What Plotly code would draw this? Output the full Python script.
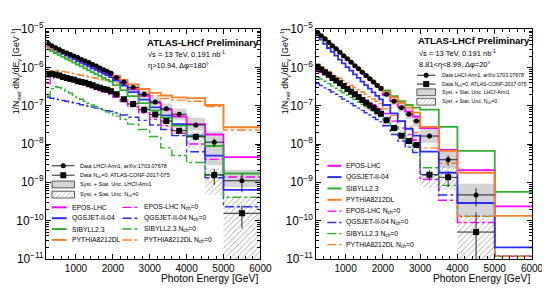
import plotly.graph_objects as go

FONT = "Liberation Sans, Arial, Helvetica, sans-serif"

# ---------------- binning (GeV) ----------------
edges_a = [200, 300, 400, 500, 600, 700, 800, 900, 1000, 1100, 1200, 1300, 1400,
           1500, 1600, 1700, 1800, 1900, 2000, 2200, 2400, 2700, 3000, 3300, 3600,
           4000, 4500, 5000, 6000]
edges_b = [200, 300, 400, 500, 600, 700, 800, 900, 1000, 1100, 1200, 1300, 1400,
           1500, 1600, 1700, 1800, 1900, 2000, 2200, 2400, 2600, 2800, 3000, 3500,
           4000, 5000, 6000]

# ---------------- left panel: eta > 10.94 ----------------
lhcf_a = [4.27e-6, 3.72e-6, 3.31e-6, 2.95e-6, 2.63e-6, 2.40e-6, 2.19e-6, 2.00e-6, 1.82e-6, 1.62e-6,
          1.48e-6, 1.35e-6, 1.20e-6, 1.10e-6, 9.77e-7, 8.71e-7, 7.94e-7, 7.08e-7,
          5.50e-7, 4.17e-7, 3.02e-7, 2.00e-7, 1.26e-7, 8.32e-8, 6.03e-8, 3.16e-8, 1.12e-8, 1.10e-9]
nch0_a = [6.61e-7, 6.76e-7, 6.61e-7, 6.17e-7, 5.62e-7, 5.37e-7, 5.01e-7, 4.79e-7, 4.37e-7, 4.17e-7,
          3.98e-7, 3.72e-7, 3.47e-7, 3.16e-7, 2.95e-7, 2.75e-7, 2.63e-7, 2.40e-7,
          2.00e-7, 1.48e-7, 1.12e-7, 7.94e-8, 5.89e-8, 3.98e-8, 2.24e-8, 1.55e-8, 1.55e-9, 1.55e-10]
stat_lhcf_a = [0.02, 0.02, 0.02, 0.02, 0.02, 0.02, 0.02, 0.02, 0.02, 0.02, 0.02, 0.02, 0.02, 0.02,
               0.02, 0.02, 0.02, 0.02, 0.03, 0.03, 0.04, 0.05, 0.06, 0.08, 0.10, 0.15, 0.25, 0.50]
stat_nch_a = [0.03, 0.03, 0.03, 0.03, 0.03, 0.03, 0.03, 0.03, 0.03, 0.03, 0.03, 0.03, 0.03, 0.03,
              0.03, 0.03, 0.03, 0.03, 0.05, 0.05, 0.06, 0.07, 0.09, 0.11, 0.14, 0.20, 0.45, 0.60]
sys_lhcf_up_a = [1.10, 1.10, 1.10, 1.10, 1.10, 1.11, 1.11, 1.12, 1.12, 1.13, 1.13, 1.14, 1.15, 1.15,
                 1.16, 1.17, 1.18, 1.19, 1.20, 1.22, 1.25, 1.28, 1.32, 1.36, 1.40, 1.55, 1.90, 1.95]
sys_lhcf_dn_a = [1.10, 1.10, 1.10, 1.10, 1.10, 1.11, 1.11, 1.12, 1.12, 1.13, 1.13, 1.14, 1.15, 1.15,
                 1.16, 1.17, 1.18, 1.19, 1.20, 1.22, 1.25, 1.28, 1.32, 1.36, 1.40, 1.40, 4.00, 1.45]
sys_nch_up_a = [1.12, 1.12, 1.12, 1.12, 1.12, 1.12, 1.13, 1.13, 1.14, 1.14, 1.15, 1.15, 1.16, 1.17,
                1.18, 1.19, 1.20, 1.21, 1.23, 1.25, 1.28, 1.32, 1.36, 1.40, 1.45, 1.35, 1.50, 2.70]
sys_nch_dn_a = [1.12, 1.12, 1.12, 1.12, 1.12, 1.12, 1.13, 1.13, 1.14, 1.14, 1.15, 1.15, 1.16, 1.17,
                1.18, 1.19, 1.20, 1.21, 1.23, 1.25, 1.28, 1.32, 1.36, 1.40, 1.45, 2.00, 3.30, 1000.0]

epos_a = [3.63e-6, 3.24e-6, 2.95e-6, 2.63e-6, 2.40e-6, 2.14e-6, 1.95e-6, 1.74e-6, 1.58e-6, 1.41e-6,
          1.29e-6, 1.15e-6, 1.05e-6, 9.33e-7, 8.51e-7, 7.59e-7, 6.92e-7, 6.17e-7,
          5.01e-7, 3.80e-7, 2.69e-7, 1.82e-7, 1.20e-7, 7.94e-8, 5.25e-8, 3.31e-8, 1.78e-8, 4.57e-9]
qgs_a = [3.47e-6, 3.09e-6, 2.82e-6, 2.51e-6, 2.29e-6, 2.04e-6, 1.82e-6, 1.66e-6, 1.48e-6, 1.32e-6,
         1.20e-6, 1.07e-6, 9.55e-7, 8.71e-7, 7.76e-7, 6.92e-7, 6.31e-7, 5.62e-7,
         4.57e-7, 3.39e-7, 2.29e-7, 1.45e-7, 9.12e-8, 5.62e-8, 3.31e-8, 1.66e-8, 5.01e-9, 6.31e-10]
sib_a = [3.02e-6, 2.69e-6, 2.40e-6, 2.14e-6, 1.91e-6, 1.70e-6, 1.51e-6, 1.35e-6, 1.20e-6, 1.07e-6,
         9.55e-7, 8.51e-7, 7.59e-7, 6.76e-7, 6.03e-7, 5.37e-7, 4.79e-7, 4.27e-7,
         3.47e-7, 2.57e-7, 1.78e-7, 1.17e-7, 7.59e-8, 4.90e-8, 3.02e-8, 1.58e-8, 8.91e-9, 1.70e-9]
pyt_a = [3.55e-6, 3.24e-6, 2.95e-6, 2.69e-6, 2.45e-6, 2.24e-6, 2.04e-6, 1.86e-6, 1.70e-6, 1.55e-6,
         1.41e-6, 1.29e-6, 1.17e-6, 1.07e-6, 9.77e-7, 8.91e-7, 8.13e-7, 7.41e-7,
         6.03e-7, 4.79e-7, 3.63e-7, 2.75e-7, 2.19e-7, 1.86e-7, 1.66e-7, 1.58e-7, 1.05e-7, 2.75e-8]
epos0_a = [3.80e-7, 5.01e-7, 5.62e-7, 5.62e-7, 5.37e-7, 5.01e-7, 4.68e-7, 4.37e-7, 3.98e-7, 3.72e-7,
           3.47e-7, 3.16e-7, 2.95e-7, 2.69e-7, 2.51e-7, 2.29e-7, 2.14e-7, 1.95e-7,
           1.66e-7, 1.32e-7, 9.55e-8, 6.61e-8, 4.47e-8, 3.02e-8, 1.91e-8, 1.00e-8, 3.98e-9, 1.38e-9]
qgs0_a = [1.66e-7, 1.58e-7, 1.51e-7, 1.45e-7, 1.38e-7, 1.32e-7, 1.26e-7, 1.20e-7, 1.15e-7, 1.07e-7,
          1.02e-7, 9.77e-8, 9.33e-8, 8.71e-8, 8.32e-8, 7.94e-8, 7.41e-8, 7.08e-8,
          6.46e-8, 5.75e-8, 5.01e-8, 4.17e-8, 3.16e-8, 2.40e-8, 1.66e-8, 6.31e-9, 1.32e-9, 2.29e-10]
sib0_a = [1.78e-7, 2.82e-7, 3.16e-7, 3.02e-7, 2.75e-7, 2.40e-7, 2.14e-7, 1.91e-7, 1.66e-7, 1.48e-7,
          1.32e-7, 1.17e-7, 1.05e-7, 9.55e-8, 8.51e-8, 7.59e-8, 6.92e-8, 6.31e-8,
          5.37e-8, 4.37e-8, 3.31e-8, 2.40e-8, 1.58e-8, 7.94e-9, 5.01e-9, 3.31e-9, 1.58e-9, 4.07e-10]
pyt0_a = [7.59e-7, 8.32e-7, 8.51e-7, 8.32e-7, 7.94e-7, 7.59e-7, 7.24e-7, 6.92e-7, 6.61e-7, 6.31e-7,
          6.03e-7, 5.75e-7, 5.50e-7, 5.25e-7, 5.01e-7, 4.79e-7, 4.57e-7, 4.37e-7,
          3.98e-7, 3.47e-7, 2.88e-7, 2.29e-7, 1.82e-7, 1.55e-7, 1.41e-7, 1.32e-7, 9.55e-8, 2.34e-8]

# ---------------- right panel: 8.81 < eta < 8.99 ----------------
lhcf_b = [8.32e-6, 6.76e-6, 5.62e-6, 4.57e-6, 3.72e-6, 3.09e-6, 2.51e-6, 2.04e-6, 1.70e-6, 1.38e-6,
          1.12e-6, 9.33e-7, 7.59e-7, 6.17e-7, 5.13e-7, 4.17e-7, 3.39e-7, 2.82e-7,
          2.00e-7, 1.32e-7, 8.91e-8, 6.03e-8, 3.98e-8, 1.62e-8, 3.89e-9, 4.68e-10, None]
nch0_b = [1.05e-6, 8.91e-7, 7.59e-7, 6.46e-7, 5.37e-7, 4.57e-7, 3.89e-7, 3.31e-7, 2.75e-7, 2.34e-7,
          2.00e-7, 1.70e-7, 1.41e-7, 1.20e-7, 1.02e-7, 8.71e-8, 7.24e-8, 6.17e-8,
          4.17e-8, 2.63e-8, 1.66e-8, 1.20e-8, 9.50e-9, 1.58e-9, 1.35e-9, 5.01e-11, None]
stat_lhcf_b = [0.02, 0.02, 0.02, 0.02, 0.02, 0.02, 0.02, 0.02, 0.02, 0.02, 0.02, 0.02, 0.02, 0.02,
               0.02, 0.02, 0.02, 0.02, 0.04, 0.05, 0.06, 0.08, 0.10, 0.12, 0.30, 0.50, None]
stat_nch_b = [0.03, 0.03, 0.03, 0.03, 0.03, 0.03, 0.03, 0.03, 0.03, 0.03, 0.03, 0.03, 0.03, 0.03,
              0.03, 0.03, 0.03, 0.03, 0.06, 0.08, 0.10, 0.14, 0.16, 0.30, 0.45, 2.30, None]
sys_lhcf_up_b = [1.08, 1.08, 1.08, 1.08, 1.08, 1.08, 1.09, 1.09, 1.10, 1.10, 1.11, 1.12, 1.13, 1.14,
                 1.15, 1.16, 1.18, 1.20, 1.22, 1.25, 1.28, 1.32, 1.38, 1.85, 1.90, 1.95, None]
sys_lhcf_dn_b = [1.08, 1.08, 1.08, 1.08, 1.08, 1.08, 1.09, 1.09, 1.10, 1.10, 1.11, 1.12, 1.13, 1.14,
                 1.15, 1.16, 1.18, 1.20, 1.22, 1.25, 1.28, 1.32, 1.38, 1.50, 1.65, 3.80, None]
sys_nch_up_b = [1.12, 1.12, 1.12, 1.12, 1.12, 1.13, 1.13, 1.14, 1.15, 1.16, 1.17, 1.18, 1.20, 1.22,
                1.24, 1.26, 1.28, 1.30, 1.35, 1.40, 1.45, 1.50, 1.55, 1.20, 2.00, 2.50, None]
sys_nch_dn_b = [1.12, 1.12, 1.12, 1.12, 1.12, 1.13, 1.13, 1.14, 1.15, 1.16, 1.17, 1.18, 1.20, 1.22,
                1.24, 1.26, 1.28, 1.30, 1.35, 1.40, 1.45, 1.50, 1.55, 2.20, 2.10, 1000.0, None]

epos_b = [7.94e-6, 6.46e-6, 5.25e-6, 4.27e-6, 3.47e-6, 2.88e-6, 2.34e-6, 1.95e-6, 1.58e-6, 1.32e-6,
          1.07e-6, 8.71e-7, 7.24e-7, 5.89e-7, 4.90e-7, 3.98e-7, 3.24e-7, 2.63e-7,
          1.91e-7, 1.32e-7, 9.55e-8, 7.08e-8, 5.25e-8, 2.63e-8, 7.08e-9, 2.09e-9, 2.34e-10]
qgs_b = [6.92e-6, 5.37e-6, 4.17e-6, 3.24e-6, 2.57e-6, 2.04e-6, 1.62e-6, 1.29e-6, 1.02e-6, 8.32e-7,
         6.61e-7, 5.37e-7, 4.27e-7, 3.47e-7, 2.82e-7, 2.24e-7, 1.82e-7, 1.48e-7,
         1.05e-7, 6.31e-8, 3.98e-8, 2.51e-8, 1.66e-8, 6.31e-9, 1.78e-9, 2.88e-10, 2.00e-11]
sib_b = [7.41e-6, 6.17e-6, 5.01e-6, 4.17e-6, 3.39e-6, 2.82e-6, 2.34e-6, 1.91e-6, 1.58e-6, 1.32e-6,
         1.10e-6, 9.12e-7, 7.59e-7, 6.31e-7, 5.25e-7, 4.37e-7, 3.63e-7, 3.02e-7,
         2.51e-7, 1.78e-7, 1.32e-7, 1.05e-7, 8.91e-8, 7.94e-8, 2.82e-8, 6.61e-9, 5.62e-10]
pyt_b = [7.94e-6, 6.61e-6, 5.37e-6, 4.47e-6, 3.63e-6, 3.02e-6, 2.45e-6, 2.04e-6, 1.66e-6, 1.38e-6,
         1.15e-6, 9.33e-7, 7.76e-7, 6.46e-7, 5.37e-7, 4.37e-7, 3.63e-7, 3.02e-7,
         2.29e-7, 1.66e-7, 1.20e-7, 8.91e-8, 6.61e-8, 2.82e-8, 6.61e-9, 1.78e-9, 1.32e-10]
epos0_b = [8.32e-7, 7.41e-7, 6.46e-7, 5.62e-7, 4.90e-7, 4.27e-7, 3.72e-7, 3.24e-7, 2.82e-7, 2.45e-7,
           2.14e-7, 1.86e-7, 1.62e-7, 1.41e-7, 1.23e-7, 1.07e-7, 9.33e-8, 8.13e-8,
           6.31e-8, 3.98e-8, 2.63e-8, 1.78e-8, 1.26e-8, 1.20e-9, 3.39e-10, 8.91e-11, 1.17e-11]
qgs0_b = [3.80e-7, 3.39e-7, 2.95e-7, 2.63e-7, 2.29e-7, 2.00e-7, 1.74e-7, 1.51e-7, 1.32e-7, 1.15e-7,
          1.00e-7, 8.71e-8, 7.59e-8, 6.61e-8, 5.75e-8, 5.01e-8, 4.37e-8, 3.80e-8,
          3.02e-8, 1.78e-8, 1.20e-8, 8.32e-9, 6.03e-9, 1.58e-9, 4.68e-10, 1.29e-10, 1.17e-11]
sib0_b = [5.62e-7, 5.01e-7, 4.37e-7, 3.80e-7, 3.31e-7, 2.88e-7, 2.51e-7, 2.19e-7, 1.91e-7, 1.66e-7,
          1.45e-7, 1.26e-7, 1.10e-7, 9.55e-8, 8.32e-8, 7.24e-8, 6.31e-8, 5.50e-8,
          4.37e-8, 2.82e-8, 1.91e-8, 1.26e-8, 8.91e-9, 2.40e-9, 8.32e-10, 1.29e-10, 1.17e-11]
pyt0_b = [1.20e-6, 1.05e-6, 9.12e-7, 7.94e-7, 6.92e-7, 6.03e-7, 5.25e-7, 4.57e-7, 3.98e-7, 3.47e-7,
          3.02e-7, 2.63e-7, 2.29e-7, 2.00e-7, 1.74e-7, 1.51e-7, 1.32e-7, 1.15e-7,
          8.32e-8, 5.62e-8, 3.98e-8, 2.82e-8, 2.00e-8, 7.94e-9, 3.16e-9, 1.29e-10, 1.17e-11]

model_names = ["EPOS-LHC", "QGSJET-II-04", "SIBYLL2.3", "PYTHIA8212DL"]
model_colors = ["#ff00ff", "#2b2bff", "#2fae2f", "#ff7f27"]

GREY = "#d4d4d4"
HATCH = "#9a9a9a"

fig = go.Figure()


def draw_panel(xa, ya, edges, lhcf, nch0, st_l, st_n, sl_up, sl_dn, sn_up, sn_dn, models, models0):
    cen = [(a + b) / 2 for a, b in zip(edges[:-1], edges[1:])]
    wid = [b - a for a, b in zip(edges[:-1], edges[1:])]

    # systematic bands
    bands = [(lhcf, sl_up, sl_dn, dict(color=GREY, line=dict(width=0))),
             (nch0, sn_up, sn_dn, dict(color="rgba(0,0,0,0)", line=dict(width=0),
                                       pattern=dict(shape="/", fgcolor=HATCH, bgcolor="rgba(0,0,0,0)",
                                                    fillmode="replace", size=4, solidity=0.2)))]
    for vals, up, dn, mk in bands:
        idx = [i for i, v in enumerate(vals) if v is not None]
        lo = [vals[i] / dn[i] for i in idx]
        hi = [vals[i] * up[i] for i in idx]
        fig.add_trace(go.Bar(x=[cen[i] for i in idx], y=[h - l for h, l in zip(hi, lo)], base=lo,
                             width=[wid[i] for i in idx], marker=mk, xaxis=xa, yaxis=ya,
                             showlegend=False, hoverinfo="skip"))

    # model histograms
    for vals, col in zip(models0, model_colors):
        fig.add_trace(go.Scatter(x=edges, y=vals + [vals[-1]], mode="lines",
                                 line=dict(color=col, width=1.4, dash="dashdot", shape="hv"),
                                 xaxis=xa, yaxis=ya, showlegend=False))
    for vals, col in zip(models, model_colors):
        fig.add_trace(go.Scatter(x=edges, y=vals + [vals[-1]], mode="lines",
                                 line=dict(color=col, width=1.8, shape="hv"),
                                 xaxis=xa, yaxis=ya, showlegend=False))

    # data points
    for vals, st, sym, sz in ((nch0, st_n, "square", 6), (lhcf, st_l, "circle", 5)):
        idx = [i for i, v in enumerate(vals) if v is not None]
        fig.add_trace(go.Scatter(
            x=[cen[i] for i in idx], y=[vals[i] for i in idx], mode="markers",
            marker=dict(symbol=sym, size=sz, color="black"),
            error_x=dict(type="data", array=[wid[i] / 2 for i in idx], thickness=1, width=0, color="#222"),
            error_y=dict(type="data", array=[vals[i] * st[i] for i in idx], thickness=1, width=0, color="#222"),
            xaxis=xa, yaxis=ya, showlegend=False))


draw_panel("x", "y", edges_a, lhcf_a, nch0_a, stat_lhcf_a, stat_nch_a,
           sys_lhcf_up_a, sys_lhcf_dn_a, sys_nch_up_a, sys_nch_dn_a,
           [epos_a, qgs_a, sib_a, pyt_a], [epos0_a, qgs0_a, sib0_a, pyt0_a])
draw_panel("x2", "y2", edges_b, lhcf_b, nch0_b, stat_lhcf_b, stat_nch_b,
           sys_lhcf_up_b, sys_lhcf_dn_b, sys_nch_up_b, sys_nch_dn_b,
           [epos_b, qgs_b, sib_b, pyt_b], [epos0_b, qgs0_b, sib0_b, pyt0_b])

# ---------------- legends / labels, drawn on a pixel overlay axis ----------------
shapes = []
annos = []


def text(x, y, s, size, anchor="left", **kw):
    annos.append(dict(x=x, y=y, xref="x3", yref="y3", text=s, showarrow=False, xanchor=anchor,
                      yanchor=kw.pop("yanchor", "middle"), font=dict(family=FONT, size=size, color="black"), **kw))


def data_legend(x0, x1, tx, ys, size):
    xm = (x0 + x1) / 2
    for y, sym, sz in ((ys[0], "circle", 5), (ys[1], "square", 6)):
        shapes.append(dict(type="line", xref="x3", yref="y3", x0=x0, x1=x1, y0=y, y1=y,
                           line=dict(color="#222", width=1)))
        fig.add_trace(go.Scatter(x=[xm], y=[y], mode="markers", marker=dict(symbol=sym, size=sz, color="black"),
                                 xaxis="x3", yaxis="y3", showlegend=False, hoverinfo="skip"))
    for y, mk in ((ys[2], dict(color=GREY, line=dict(color="#333", width=0.8))),
                  (ys[3], dict(color="white", line=dict(color="#333", width=0.8),
                               pattern=dict(shape="/", fgcolor=HATCH, bgcolor="white",
                                            fillmode="replace", size=3, solidity=0.2)))):
        fig.add_trace(go.Bar(x=[xm], y=[7.2], base=[y - 3.6], width=[x1 - x0], marker=mk,
                             xaxis="x3", yaxis="y3", showlegend=False, hoverinfo="skip"))
    labels = ["Data LHCf-Arm1, arXiv:1703.07678", "Data N<sub>ch</sub>=0, ATLAS-CONF-2017-075",
              "Syst. + Stat. Unc. LHCf-Arm1", "Syst. + Stat. Unc. N<sub>ch</sub>=0"]
    for y, s in zip(ys, labels):
        text(tx, y, s, size)


def model_entry(x0, x1, tx, y, col, dashed, label):
    shapes.append(dict(type="line", xref="x3", yref="y3", x0=x0, x1=x1, y0=y, y1=y,
                       line=dict(color=col, width=1.4 if dashed else 2, dash="dashdot" if dashed else "solid")))
    text(tx, y, label, 6.8)


# left panel
data_legend(45, 68, 72, [157.5, 167.5, 177.3, 188.0], 5.5)
for i, y in enumerate([201.5, 213.0, 224.5, 236.0]):
    model_entry(45, 60, 63, y, model_colors[i], False, model_names[i])
    model_entry(117, 133, 137, y, model_colors[i], True, model_names[i] + " N<sub>ch</sub>=0")
text(140, 26.7, "<b>ATLAS-LHCf Preliminary</b>", 9.5)
text(141.5, 39.5, "√s = 13 TeV, 0.191 nb<sup>-1</sup>", 7.5)
text(141.5, 51.0, "η>10.94, Δφ=180°", 7.5)

# right panel
data_legend(418, 437, 441.7, [61.7, 71.0, 79.7, 89.7], 5.2)
rows_b = [157.5, 169.5, 181.5, 193.5, 205.5, 217.5, 229.3, 241.0]
for i in range(4):
    model_entry(326.5, 341, 344, rows_b[i], model_colors[i], False, model_names[i])
    model_entry(326.5, 341, 344, rows_b[i + 4], model_colors[i], True, model_names[i] + " N<sub>ch</sub>=0")
text(416.7, 25.0, "<b>ATLAS-LHCf Preliminary</b>", 9.5)
text(417.7, 37.7, "√s = 13 TeV, 0.191 nb<sup>-1</sup>", 7.5)
text(417.7, 50.7, "8.81&lt;η&lt;8.99, Δφ=20°", 7.5)

# axis titles
ytitle = "1/N<sub>inel</sub> dN<sub>γ</sub>/dE<sub>γ</sub> [GeV<sup>-1</sup>]"
for xt in (8.0, 283.0):
    text(xt, 10, ytitle, 8.7, anchor="center", yanchor="top", textangle=-90)
for xt in (258, 535.7):
    text(xt, 277, "Photon Energy [GeV]", 10.3, anchor="right")

axis_base = dict(showline=True, linecolor="black", linewidth=1, mirror="allticks", ticks="inside",
                 ticklen=5, tickwidth=1, tickcolor="black", showgrid=False, zeroline=False,
                 tickfont=dict(family=FONT, size=10, color="black"))
xbase = dict(axis_base, range=[200, 6000], tick0=0, dtick=1000,
             minor=dict(ticks="inside", ticklen=3, dtick=200, tickcolor="black", showgrid=False))
ybase = dict(axis_base, type="log", range=[-11, -5], dtick=1, exponentformat="power", showexponent="all",
             domain=[0.1142, 0.955], tickfont=dict(family=FONT, size=9.5, color="black"),
             minor=dict(ticks="inside", ticklen=3, dtick="D1", tickcolor="black", showgrid=False))

fig.update_layout(
    width=550, height=289, margin=dict(l=0, r=0, t=0, b=0),
    paper_bgcolor="white", plot_bgcolor="rgba(0,0,0,0)",
    showlegend=False, barmode="overlay",
    font=dict(family=FONT, color="black"),
    xaxis=dict(xbase, domain=[0.0715, 0.4691], anchor="y"),
    yaxis=dict(ybase, anchor="x"),
    xaxis2=dict(xbase, domain=[0.5720, 0.9740], anchor="y2"),
    yaxis2=dict(ybase, anchor="x2"),
    xaxis3=dict(domain=[0, 1], range=[0, 550], visible=False, anchor="y3", fixedrange=True),
    yaxis3=dict(domain=[0, 1], range=[289, 0], visible=False, anchor="x3", fixedrange=True),
    shapes=shapes, annotations=annos,
)

fig.write_html("out.html")
